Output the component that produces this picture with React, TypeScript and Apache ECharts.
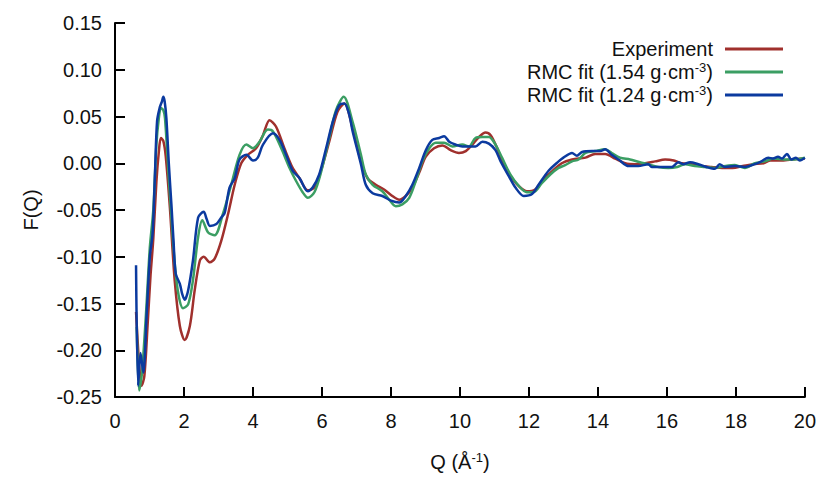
import React, { useEffect, useRef } from "react";
import * as echarts from "echarts";

// Experiment
const expQ = [0.61, 0.70, 0.77, 0.85, 0.95, 1.03, 1.11, 1.20, 1.27, 1.33, 1.40, 1.47, 1.59, 1.73, 1.88, 2.02, 2.17, 2.31, 2.46, 2.57, 2.75, 2.89, 3.08, 3.28, 3.47, 3.66, 3.85, 4.09, 4.29, 4.48, 4.67, 4.91, 5.15, 5.35, 5.59, 5.78, 5.97, 6.21, 6.45, 6.65, 6.89, 7.13, 7.32, 7.56, 7.80, 8.04, 8.24, 8.43, 8.62, 8.82, 9.01, 9.25, 9.49, 9.73, 9.97, 10.17, 10.36, 10.55, 10.74, 10.89, 11.08, 11.27, 11.51, 11.75, 11.94, 12.18, 12.42, 12.66, 12.95, 13.25, 13.64, 13.92, 14.21, 14.50, 14.79, 15.08, 15.37, 15.66, 15.95, 16.20, 16.43, 16.70, 17.00, 17.30, 17.60, 17.90, 18.20, 18.50, 18.80, 19.00, 19.30, 19.60, 20.00];
const expF = [-0.159, -0.215, -0.238, -0.228, -0.170, -0.120, -0.081, -0.020, 0.012, 0.027, 0.024, 0.008, -0.047, -0.125, -0.174, -0.189, -0.174, -0.136, -0.104, -0.100, -0.106, -0.102, -0.083, -0.054, -0.023, 0.000, 0.009, 0.016, 0.030, 0.046, 0.039, 0.016, -0.005, -0.016, -0.029, -0.026, -0.008, 0.023, 0.055, 0.064, 0.037, 0.002, -0.016, -0.023, -0.028, -0.035, -0.039, -0.035, -0.026, -0.010, 0.007, 0.016, 0.019, 0.014, 0.011, 0.013, 0.020, 0.028, 0.033, 0.030, 0.016, -0.002, -0.016, -0.026, -0.030, -0.028, -0.017, -0.009, 0.000, 0.004, 0.006, 0.010, 0.010, 0.005, 0.000, -0.001, 0.000, 0.002, 0.004, 0.003, 0.000, -0.001, -0.003, -0.004, -0.005, -0.005, -0.003, -0.001, 0.000, 0.003, 0.003, 0.004, 0.005];

// RMC fit, 1.54 g/cm3
const fitAQ = [0.63, 0.70, 0.78, 0.90, 1.01, 1.11, 1.20, 1.27, 1.33, 1.40, 1.45, 1.59, 1.78, 1.97, 2.12, 2.26, 2.41, 2.53, 2.70, 2.89, 3.13, 3.37, 3.61, 3.81, 4.00, 4.19, 4.43, 4.58, 4.82, 5.06, 5.25, 5.44, 5.59, 5.78, 5.97, 6.21, 6.41, 6.63, 6.89, 7.13, 7.27, 7.47, 7.75, 7.95, 8.14, 8.33, 8.53, 8.72, 8.91, 9.11, 9.30, 9.54, 9.78, 10.07, 10.26, 10.45, 10.65, 10.84, 11.03, 11.22, 11.46, 11.70, 11.94, 12.13, 12.38, 12.62, 12.86, 13.05, 13.25, 13.44, 13.64, 13.92, 14.21, 14.40, 14.64, 14.93, 15.22, 15.46, 15.75, 16.04, 16.30, 16.53, 16.81, 17.10, 17.40, 17.70, 17.97, 18.26, 18.55, 18.84, 19.10, 19.40, 19.70, 20.00];
const fitAF = [-0.175, -0.243, -0.225, -0.160, -0.090, -0.050, 0.020, 0.048, 0.059, 0.057, 0.048, -0.033, -0.125, -0.155, -0.151, -0.125, -0.079, -0.061, -0.074, -0.077, -0.054, -0.023, 0.009, 0.020, 0.016, 0.023, 0.036, 0.034, 0.016, -0.005, -0.019, -0.031, -0.037, -0.031, -0.010, 0.027, 0.057, 0.071, 0.044, 0.009, -0.012, -0.023, -0.030, -0.039, -0.046, -0.044, -0.037, -0.019, 0.002, 0.016, 0.022, 0.022, 0.018, 0.020, 0.018, 0.027, 0.028, 0.028, 0.020, 0.006, -0.012, -0.024, -0.031, -0.031, -0.021, -0.012, -0.005, -0.002, 0.002, 0.004, 0.011, 0.013, 0.015, 0.011, 0.006, 0.004, 0.001, -0.001, -0.004, -0.005, -0.004, -0.001, -0.003, -0.004, -0.005, -0.003, -0.002, -0.005, 0.000, 0.002, 0.005, 0.004, 0.004, 0.006];

// RMC fit, 1.24 g/cm3
const fitBQ = [0.61, 0.67, 0.74, 0.82, 0.92, 1.01, 1.09, 1.16, 1.22, 1.30, 1.36, 1.40, 1.44, 1.49, 1.56, 1.64, 1.70, 1.76, 1.88, 1.95, 2.02, 2.12, 2.26, 2.41, 2.57, 2.66, 2.75, 2.94, 3.08, 3.18, 3.32, 3.47, 3.61, 3.81, 4.00, 4.14, 4.29, 4.58, 4.77, 4.96, 5.15, 5.35, 5.59, 5.73, 5.92, 6.12, 6.31, 6.50, 6.65, 6.79, 6.89, 7.13, 7.27, 7.47, 7.75, 8.00, 8.24, 8.43, 8.62, 8.82, 9.01, 9.20, 9.40, 9.54, 9.69, 9.87, 10.07, 10.26, 10.45, 10.65, 10.84, 11.03, 11.18, 11.42, 11.61, 11.85, 12.09, 12.28, 12.57, 12.86, 13.00, 13.25, 13.39, 13.54, 13.83, 14.07, 14.21, 14.40, 14.60, 14.89, 15.17, 15.46, 15.56, 15.85, 16.14, 16.33, 16.47, 16.67, 16.91, 17.15, 17.39, 17.53, 17.68, 17.97, 18.26, 18.55, 18.74, 18.94, 19.08, 19.22, 19.34, 19.48, 19.61, 19.74, 19.85, 20.00];
const fitBF = [-0.109, -0.238, -0.203, -0.224, -0.160, -0.100, -0.075, -0.010, 0.045, 0.060, 0.066, 0.071, 0.066, 0.048, 0.000, -0.047, -0.085, -0.118, -0.129, -0.140, -0.146, -0.136, -0.104, -0.058, -0.052, -0.060, -0.067, -0.065, -0.058, -0.053, -0.026, -0.016, 0.004, 0.009, 0.003, 0.006, 0.020, 0.032, 0.025, 0.009, -0.008, -0.016, -0.030, -0.026, -0.012, 0.016, 0.044, 0.062, 0.064, 0.052, 0.034, -0.001, -0.023, -0.032, -0.035, -0.040, -0.042, -0.035, -0.023, -0.005, 0.014, 0.025, 0.027, 0.029, 0.023, 0.020, 0.018, 0.018, 0.018, 0.023, 0.021, 0.014, 0.002, -0.014, -0.026, -0.035, -0.033, -0.023, -0.008, 0.002, 0.006, 0.011, 0.008, 0.012, 0.013, 0.013, 0.015, 0.009, 0.004, -0.003, -0.003, -0.001, -0.004, -0.004, -0.004, 0.001, -0.001, 0.001, -0.001, -0.004, -0.006, -0.001, -0.004, -0.003, -0.004, -0.001, 0.002, 0.006, 0.005, 0.007, 0.005, 0.010, 0.004, 0.006, 0.003, 0.006];

const seriesNames = ["Experiment", "RMC fit (1.54 g·cm-3)", "RMC fit (1.24 g·cm-3)"];
const seriesColors = ["#a0302d", "#3b9e63", "#0b3a9f"];

const pairs = (q: number[], f: number[]) => q.map((x, i) => [x, f[i]]);

const FONT = "'Liberation Sans', Arial, sans-serif";

// rich text styles for a normal run and a superscript
const richText = {
  a: { fontSize: 20, fontFamily: FONT, color: "#111", lineHeight: 22, verticalAlign: "middle" },
  s: { fontSize: 13, fontFamily: FONT, color: "#111", lineHeight: 12, verticalAlign: "top" },
};

export default function App() {
  const ref = useRef<HTMLDivElement>(null);

  useEffect(() => {
    if (!ref.current) return;
    const chart = echarts.init(ref.current, null, { renderer: "svg" });
    const data = [pairs(expQ, expF), pairs(fitAQ, fitAF), pairs(fitBQ, fitBF)];

    chart.setOption({
      animation: false,
      backgroundColor: "#ffffff",
      textStyle: { fontFamily: FONT },
      grid: { left: 115, right: 12, top: 23, bottom: 76 },
      legend: {
        orient: "vertical",
        align: "right",
        right: 31,
        top: 34,
        itemWidth: 58,
        itemHeight: 3,
        itemGap: 2,
        icon: "rect",
        data: seriesNames.map((n, i) => ({
          name: n,
          itemStyle: { color: seriesColors[i] },
        })),
        formatter: (name: string) => {
          if (name.endsWith("-3)")) {
            const base = name.slice(0, -3);
            return `{a|${base}}{s|-3}{a|)}`;
          }
          return `{a|${name}}`;
        },
        textStyle: {
          color: "#111",
          padding: [0, 7, 0, 0],
          rich: richText,
        },
      },
      xAxis: {
        type: "value",
        min: 0,
        max: 20,
        interval: 2,
        name: "{a|Q (Å}{s|-1}{a|)}",
        nameLocation: "middle",
        nameGap: 54,
        nameTextStyle: { rich: richText },
        axisLine: { onZero: false, lineStyle: { color: "#000", width: 2 } },
        axisTick: { inside: true, length: 10, lineStyle: { color: "#000", width: 2 } },
        axisLabel: { color: "#111", fontSize: 20, fontFamily: FONT, margin: 14 },
        splitLine: { show: false },
      },
      yAxis: {
        type: "value",
        min: -0.25,
        max: 0.15,
        interval: 0.05,
        name: "F(Q)",
        nameLocation: "middle",
        nameRotate: 90,
        nameGap: 74,
        nameTextStyle: { fontSize: 20, fontFamily: FONT, color: "#111" },
        axisLine: { lineStyle: { color: "#000", width: 2 } },
        axisTick: { inside: true, length: 10, lineStyle: { color: "#000", width: 2 } },
        axisLabel: {
          color: "#111",
          fontSize: 20,
          fontFamily: FONT,
          margin: 13,
          formatter: (v: number) => v.toFixed(2),
        },
        splitLine: { show: false },
      },
      series: data.map((d, i) => ({
        name: seriesNames[i],
        type: "line",
        data: d,
        symbol: "none",
        smooth: 0.3,
        lineStyle: { color: seriesColors[i], width: 2.5 },
        itemStyle: { color: seriesColors[i] },
      })),
    });

    return () => chart.dispose();
  }, []);

  return (
    <div
      ref={ref}
      style={{ position: "fixed", left: 0, top: 0, width: 819, height: 477, background: "#fff" }}
    />
  );
}
